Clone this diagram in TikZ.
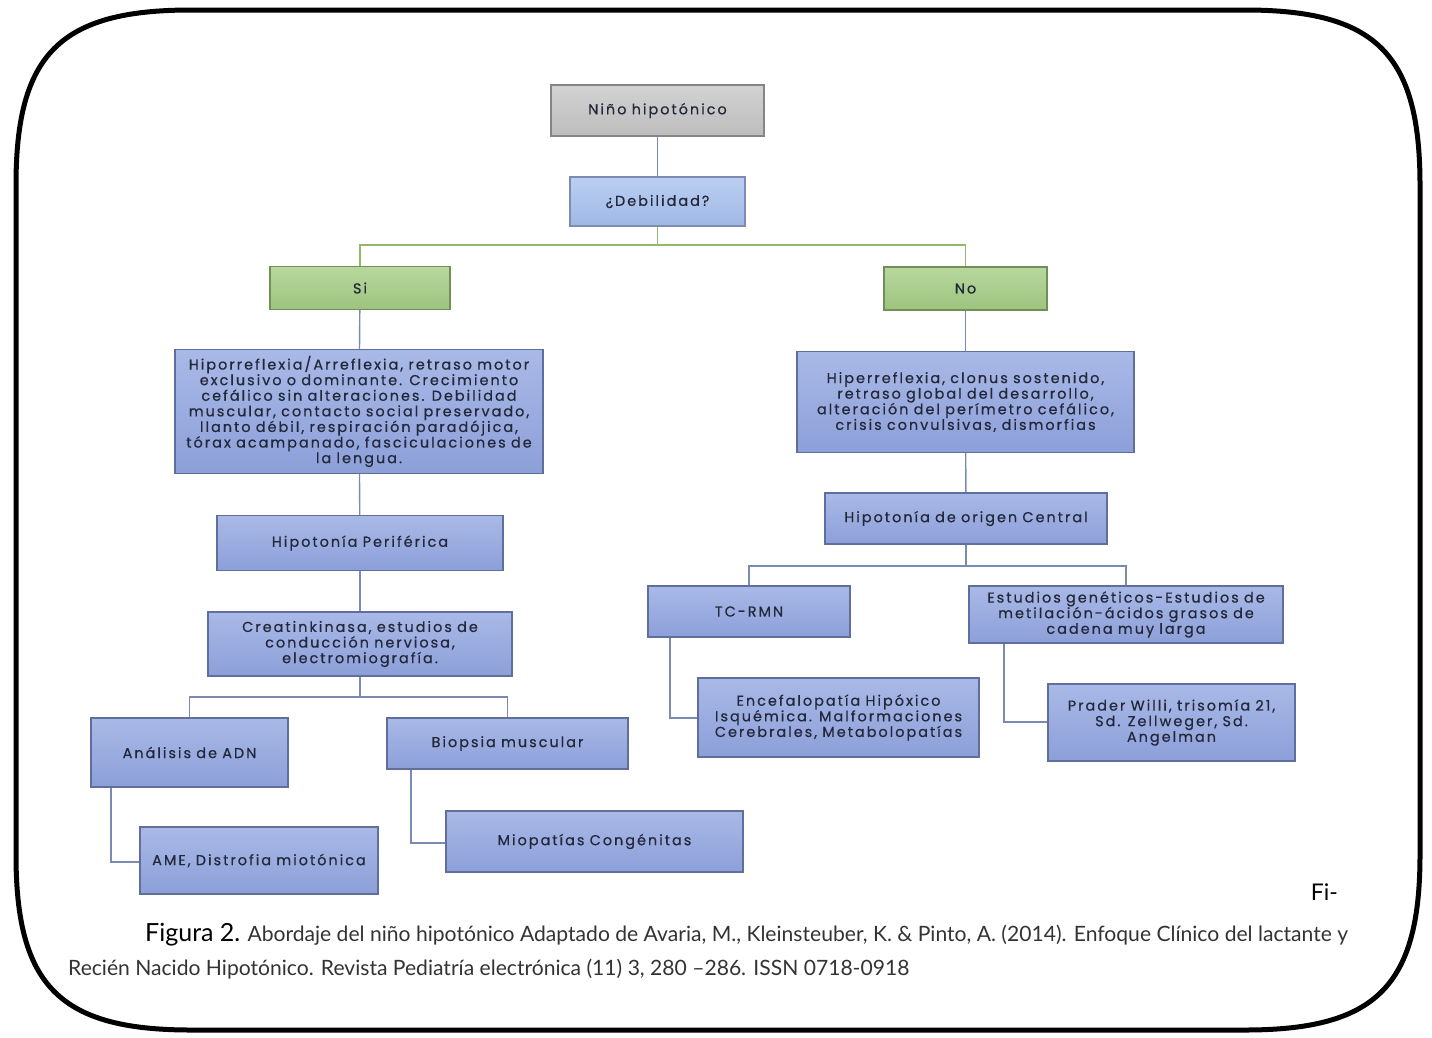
\documentclass[tikz,border=0pt]{standalone}
\usepackage{fontspec}
\newfontfamily\boxfont[LetterSpace=14, WordSpace=0.9, FakeBold=0.5]{Poppins}
\newfontfamily\capfont{Lato}
\usetikzlibrary{calc}
\definecolor{bluetop}{HTML}{A9B9E7}
\definecolor{bluebot}{HTML}{8C9FD8}
\definecolor{blueedge}{HTML}{5F6E9C}
\definecolor{greentop}{HTML}{B8D89E}
\definecolor{greenbot}{HTML}{9DC47E}
\definecolor{greenedge}{HTML}{728F58}
\definecolor{graytop}{HTML}{D2D2D2}
\definecolor{graybot}{HTML}{BDBDBD}
\definecolor{grayedge}{HTML}{858585}
\definecolor{debtop}{HTML}{BACFF1}
\definecolor{debbot}{HTML}{A0B8E6}
\definecolor{conn}{HTML}{7B8AB0}
\definecolor{gconn}{HTML}{93B86A}
\definecolor{txt}{HTML}{23273A}
\tikzset{
  bx/.style={rectangle, draw=blueedge, line width=1.3pt, top color=bluetop, bottom color=bluebot,
    align=center, inner sep=1pt, font=\boxfont\fontsize{14.4}{15.6}\selectfont, text=txt},
  gbx/.style={bx, draw=greenedge, top color=greentop, bottom color=greenbot},
  graybx/.style={bx, draw=grayedge, top color=graytop, bottom color=graybot},
  debbx/.style={bx, draw=blueedge!80, top color=debtop, bottom color=debbot},
  ln/.style={draw=conn, line width=1.4pt},
  gln/.style={draw=gconn, line width=1.4pt},
}
\begin{document}
\begin{tikzpicture}[x=1pt,y=-1pt]
\useasboundingbox (0,0) rectangle (1432,1037);
\draw[line width=5pt] (16,185) .. controls (16,54) and (60,10) .. (191,10) -- (1245,10)
  .. controls (1376,10) and (1420,54) .. (1420,185) -- (1420,855)
  .. controls (1420,986) and (1376,1030) .. (1245,1030) -- (191,1030)
  .. controls (60,1030) and (16,986) .. (16,855) -- cycle;

\node[graybx, minimum width=213pt, minimum height=51pt] (nino) at (657.5,110.5) {Niño hipotónico};
\node[debbx, minimum width=175pt, minimum height=49pt] (deb) at (657.5,201.5) {¿Debilidad?};
\node[gbx, minimum width=180pt, minimum height=43pt] (si) at (360,288) {Si};
\node[gbx, minimum width=163pt, minimum height=43pt] (no) at (965.5,288.5) {No};
\node[bx, minimum width=368pt, minimum height=124pt] (hipo) at (359,411.5) {Hiporreflexia/Arreflexia, retraso motor\\ exclusivo o dominante. Crecimiento\\ cefálico sin alteraciones. Debilidad\\ muscular, contacto social preservado,\\ llanto débil, respiración paradójica,\\ tórax acampanado, fasciculaciones de\\ la lengua.};
\node[bx, minimum width=337pt, minimum height=101pt] (hiper) at (965.5,402) {Hiperreflexia, clonus sostenido,\\ retraso global del desarrollo,\\ alteración del perímetro cefálico,\\ crisis convulsivas, dismorfias};
\node[bx, minimum width=286pt, minimum height=55pt] (perif) at (360,543) {Hipotonía Periférica};
\node[bx, minimum width=304pt, minimum height=64pt] (creat) at (360,644) {Creatinkinasa, estudios de\\ conducción nerviosa,\\ electromiografía.};
\node[bx, minimum width=197pt, minimum height=69pt] (adn) at (189.5,752.5) {Análisis de ADN};
\node[bx, minimum width=241pt, minimum height=51pt] (biop) at (507.5,743.5) {Biopsia muscular};
\node[bx, minimum width=238pt, minimum height=67pt] (ame) at (259,860.5) {AME, Distrofia miotónica};
\node[bx, minimum width=297pt, minimum height=61pt] (miop) at (594.5,841.5) {Miopatías Congénitas};
\node[bx, minimum width=282pt, minimum height=51pt] (central) at (966,518.5) {Hipotonía de origen Central};
\node[bx, minimum width=202pt, minimum height=51pt] (tc) at (749,611.5) {TC-RMN};
\node[bx, minimum width=314pt, minimum height=57pt] (est) at (1126,614.5) {Estudios genéticos-Estudios de\\ metilación-ácidos grasos de\\ cadena muy larga};
\node[bx, minimum width=281pt, minimum height=79pt] (ence) at (838.5,717.5) {Encefalopatía Hipóxico\\ Isquémica. Malformaciones\\ Cerebrales, Metabolopatías};
\node[bx, minimum width=247pt, minimum height=77pt] (prader) at (1171.5,722.5) {Prader Willi, trisomía 21,\\ Sd. Zellweger, Sd.\\ Angelman};

\coordinate (j1) at (657.5,245);
\coordinate (j2) at (360,697);
\coordinate (j3) at (966,566);
\coordinate (c1) at (111,862);
\coordinate (c2) at (411,843);
\coordinate (c3) at (670,718);
\coordinate (c4) at (1004,722);

\draw[ln] (nino) -- (deb);
\draw[gln] (deb.south) -- (j1) -| (si.north);
\draw[gln] (j1) -| (no.north);
\draw[ln] (si) -- (hipo);
\draw[ln] (hipo) -- (perif);
\draw[ln] (perif) -- (creat);
\draw[ln] (creat.south) -- (j2) -| (adn.north);
\draw[ln] (j2) -| (biop.north);
\draw[ln] (c1 |- adn.south) -- (c1) -- (c1 -| ame.west);
\draw[ln] (c2 |- biop.south) -- (c2) -- (c2 -| miop.west);
\draw[ln] (no) -- (hiper);
\draw[ln] (hiper) -- (central);
\draw[ln] (central.south) -- (j3) -| (tc.north);
\draw[ln] (j3) -| (est.north);
\draw[ln] (c3 |- tc.south) -- (c3) -- (c3 -| ence.west);
\draw[ln] (c4 |- est.south) -- (c4) -- (c4 -| prader.west);

\node[anchor=base east, inner sep=0pt, font=\capfont\fontsize{23}{24}\selectfont] (fi) at (1338,900) {Fi-};
\node[anchor=base west, inner sep=0pt, font=\capfont\fontsize{21.1}{22}\selectfont, text=black!80] (cap1) at (145,941)
  {{\color{black}\fontsize{25}{26}\selectfont Figura 2.} Abordaje del niño hipotónico Adaptado de Avaria, M., Kleinsteuber, K. \& Pinto, A. (2014). Enfoque Clínico del lactante y};
\node[anchor=base west, inner sep=0pt, font=\capfont\fontsize{21.1}{22}\selectfont, text=black!80] (cap2) at (68,975)
  {Recién Nacido Hipotónico. Revista Pediatría electrónica (11) 3, 280 –286. ISSN 0718-0918};
\end{tikzpicture}
\end{document}
